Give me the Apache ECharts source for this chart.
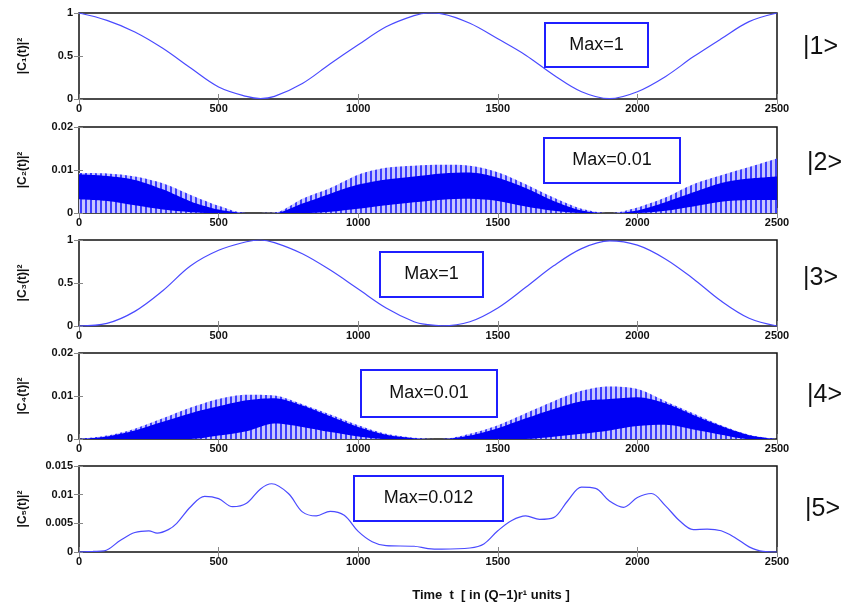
<!DOCTYPE html>
<html><head><meta charset="utf-8">
<script src="https://cdn.jsdelivr.net/npm/echarts@6/dist/echarts.min.js"></script>
<style>html,body{margin:0;padding:0;background:#fff}#c{width:845px;height:605px}</style>
</head><body><div id="c"></div>
<script>
// ---- data ----
const xTicks = [0, 500, 1000, 1500, 2000, 2500];
const t13 = [0,100,200,300,400,500,600,650,700,800,900,1000,1100,1200,1250,1300,1400,1500,1600,1700,1800,1900,2000,2100,2200,2300,2400,2500];
const p1 = [1.0,0.915,0.78,0.59,0.36,0.14,0.03,0.005,0.03,0.18,0.41,0.63,0.84,0.97,1.0,0.99,0.88,0.70,0.51,0.28,0.085,0.005,0.085,0.26,0.49,0.70,0.90,1.0];
const p3 = [0,0.03,0.17,0.41,0.70,0.88,0.98,1.0,0.97,0.84,0.65,0.43,0.21,0.05,0.015,0.002,0.05,0.21,0.45,0.70,0.90,0.99,0.94,0.78,0.55,0.29,0.09,0.0];

const t24 = [0,100,200,300,400,500,600,700,800,900,1000,1100,1200,1300,1400,1500,1600,1700,1800,1900,2000,2100,2200,2300,2400,2500];
const outer2 = [0.0093,0.0092,0.0085,0.0069,0.0042,0.0017,0.0,0.0001,0.0033,0.0058,0.0089,0.0105,0.0110,0.0112,0.0110,0.0095,0.0067,0.0036,0.0010,0.0,0.0013,0.0036,0.0067,0.0088,0.0107,0.0127];
const coreHi2 = [0.0090,0.0086,0.0077,0.0055,0.0027,0.0008,0.0,0.0,0.0022,0.0045,0.0066,0.0078,0.0085,0.0092,0.0094,0.0082,0.0058,0.0028,0.0006,0.0,0.0006,0.0025,0.0048,0.0070,0.0080,0.0085];
const coreLo2 = [0.0032,0.0028,0.0018,0.0008,0.0002,0.0,0.0,0.0,0.0,0.0003,0.0010,0.0018,0.0025,0.0031,0.0033,0.0028,0.0015,0.0005,0.0,0.0,0.0,0.0005,0.0015,0.0026,0.0030,0.0030];

const outer4 = [0.0,0.0008,0.0024,0.0048,0.0073,0.0093,0.0103,0.0101,0.0081,0.0057,0.0032,0.0012,0.0003,0.0,0.0012,0.0032,0.0060,0.0088,0.0112,0.0122,0.0116,0.0088,0.0060,0.0032,0.0010,0.0];
const coreHi4 = [0.0,0.0006,0.0020,0.0040,0.0060,0.0076,0.0090,0.0095,0.0078,0.0053,0.0028,0.0010,0.0002,0.0,0.0008,0.0025,0.0048,0.0070,0.0088,0.0093,0.0097,0.0083,0.0056,0.0030,0.0009,0.0];
const coreLo4 = [0.0,0.0,0.0,0.0,0.0,0.0008,0.0018,0.0036,0.0028,0.0016,0.0006,0.0,0.0,0.0,0.0,0.0,0.0,0.0005,0.0012,0.0020,0.0030,0.0033,0.0022,0.0010,0.0,0.0];

const t5 = [0,50,90,150,200,250,280,320,350,400,450,500,550,600,650,690,750,800,850,900,950,1000,1050,1100,1200,1250,1300,1400,1450,1500,1550,1600,1650,1700,1750,1800,1850,1900,1950,2000,2050,2100,2150,2200,2250,2300,2350,2400,2450,2500];
const p5 = [0,0.0001,0.0002,0.0021,0.0034,0.0037,0.0033,0.0039,0.005,0.0079,0.0097,0.0093,0.0079,0.0085,0.011,0.0119,0.0102,0.007,0.0063,0.0071,0.0064,0.0036,0.0018,0.0011,0.001,0.0006,0.0005,0.0007,0.0014,0.0037,0.0055,0.0063,0.0057,0.006,0.0089,0.0113,0.0111,0.0089,0.0078,0.0095,0.0102,0.0081,0.0055,0.0039,0.004,0.0037,0.0025,0.0009,0.0001,0];

const yNames = ['|C\u2081(t)|\u00b2','|C\u2082(t)|\u00b2','|C\u2083(t)|\u00b2','|C\u2084(t)|\u00b2','|C\u2085(t)|\u00b2'];
const yMax = [1, 0.02, 1, 0.02, 0.015];
const yInterval = [0.5, 0.01, 0.5, 0.01, 0.005];
const stateLabels = ['|1>','|2>','|3>','|4>','|5>'];
const maxLabels = ['Max=1','Max=0.01','Max=1','Max=0.01','Max=0.012'];
const xTitle = 'Time  t  [ in (Q\u22121)r\u00b9 units ]';

// ---- layout / style ----
const gridTops = [13, 127, 240, 353, 466];
const gridH = 86, gridL = 79, gridW = 698;
const boxes = [[545,23,103,44],[544,138,136,45],[380,252,103,45],[361,370,136,47],[354,476,149,45]];
const stateY = [47, 163, 278, 395, 509];
const stateX = [803, 807, 803, 807, 805];
const FONT = "'Liberation Sans',Arial,sans-serif";
const tickFont = {fontFamily: FONT, fontWeight: 'bold', fontSize: 11, color: '#111'};

function pattern() {
  const c = document.createElement('canvas');
  c.width = 5; c.height = 4;
  const g = c.getContext('2d');
  g.fillStyle = '#c6c6ff'; g.fillRect(0, 0, 5, 4);
  g.fillStyle = '#3c3cff'; g.fillRect(0, 0, 2, 4);
  return c;
}
const pat = pattern();
const zip = (a, b) => a.map((v, i) => [v, b[i]]);

const grid = [], xAxis = [], yAxis = [], series = [];
gridTops.forEach((top, i) => {
  grid.push({left: gridL, top: top, width: gridW, height: gridH, show: true, borderColor: '#111', borderWidth: 1.5, backgroundColor: '#fff'});
  xAxis.push({type: 'value', gridIndex: i, min: 0, max: 2500, interval: 500, position: 'bottom',
    axisLine: {show: false}, splitLine: {show: false},
    axisTick: {show: true, inside: true, length: 5, lineStyle: {color: '#888'}},
    axisLabel: Object.assign({margin: 4, formatter: v => String(v)}, tickFont)});
  xAxis.push({type: 'value', gridIndex: i, min: 0, max: 2500, interval: 500, position: 'top',
    axisLine: {show: false}, splitLine: {show: false}, axisLabel: {show: false},
    axisTick: {show: true, inside: true, length: 5, lineStyle: {color: '#888'}}});
  yAxis.push({type: 'value', gridIndex: i, min: 0, max: yMax[i], interval: yInterval[i], position: 'left',
    axisLine: {show: false}, splitLine: {show: false},
    axisTick: {show: true, inside: true, length: 4, lineStyle: {color: '#888'}},
    axisLabel: Object.assign({margin: 6, formatter: v => String(+v.toFixed(4))}, tickFont),
    name: yNames[i], nameLocation: 'middle', nameRotate: 90, nameGap: 50,
    nameTextStyle: {fontFamily: FONT, fontWeight: 'bold', fontSize: 12, color: '#111'}});
  yAxis.push({type: 'value', gridIndex: i, min: 0, max: yMax[i], interval: yInterval[i], position: 'right',
    axisLine: {show: false}, splitLine: {show: false}, axisLabel: {show: false},
    axisTick: {show: true, inside: true, length: 5, lineStyle: {color: '#888'}}});
});

function lineSeries(i, data) {
  return {type: 'line', xAxisIndex: 2 * i, yAxisIndex: 2 * i, data: data, symbol: 'none', smooth: 0.35,
    lineStyle: {color: '#4a4aff', width: 1.2}, z: 3};
}
function areaSeries(i, data, fill, z) {
  return {type: 'line', xAxisIndex: 2 * i, yAxisIndex: 2 * i, data: data, symbol: 'none', smooth: 0.3,
    lineStyle: {width: 0, opacity: 0}, areaStyle: {color: fill, opacity: 1}, z: z};
}
series.push(lineSeries(0, zip(t13, p1)));
series.push(areaSeries(1, zip(t24, outer2), {image: pat, repeat: 'repeat'}, 2));
series.push(areaSeries(1, zip(t24, coreHi2), '#0000f5', 3));
series.push(areaSeries(1, zip(t24, coreLo2), {image: pat, repeat: 'repeat'}, 4));
series.push(lineSeries(2, zip(t13, p3)));
series.push(areaSeries(3, zip(t24, outer4), {image: pat, repeat: 'repeat'}, 2));
series.push(areaSeries(3, zip(t24, coreHi4), '#0000f5', 3));
series.push(areaSeries(3, zip(t24, coreLo4), {image: pat, repeat: 'repeat'}, 4));
series.push(lineSeries(4, zip(t5, p5)));

const graphic = [];
boxes.forEach((b, i) => {
  graphic.push({type: 'rect', shape: {x: b[0], y: b[1], width: b[2], height: b[3]},
    style: {fill: '#fff', stroke: '#1f1fff', lineWidth: 2}, z: 100});
  graphic.push({type: 'text', x: b[0] + b[2] / 2, y: b[1] + b[3] / 2,
    style: {text: maxLabels[i], fill: '#111', font: "18px " + FONT, align: 'center', verticalAlign: 'middle'}, z: 101});
  graphic.push({type: 'text', x: stateX[i], y: stateY[i],
    style: {text: stateLabels[i], fill: '#111', font: "25px " + FONT, align: 'left', verticalAlign: 'middle'}, z: 101});
});
graphic.push({type: 'text', x: 491, y: 595,
  style: {text: xTitle, fill: '#111', font: "bold 13px " + FONT, align: 'center', verticalAlign: 'middle'}, z: 101});

const chart = echarts.init(document.getElementById('c'), null, {renderer: 'canvas'});
chart.setOption({animation: false, backgroundColor: '#fff', grid, xAxis, yAxis, series, graphic});
</script></body></html>
